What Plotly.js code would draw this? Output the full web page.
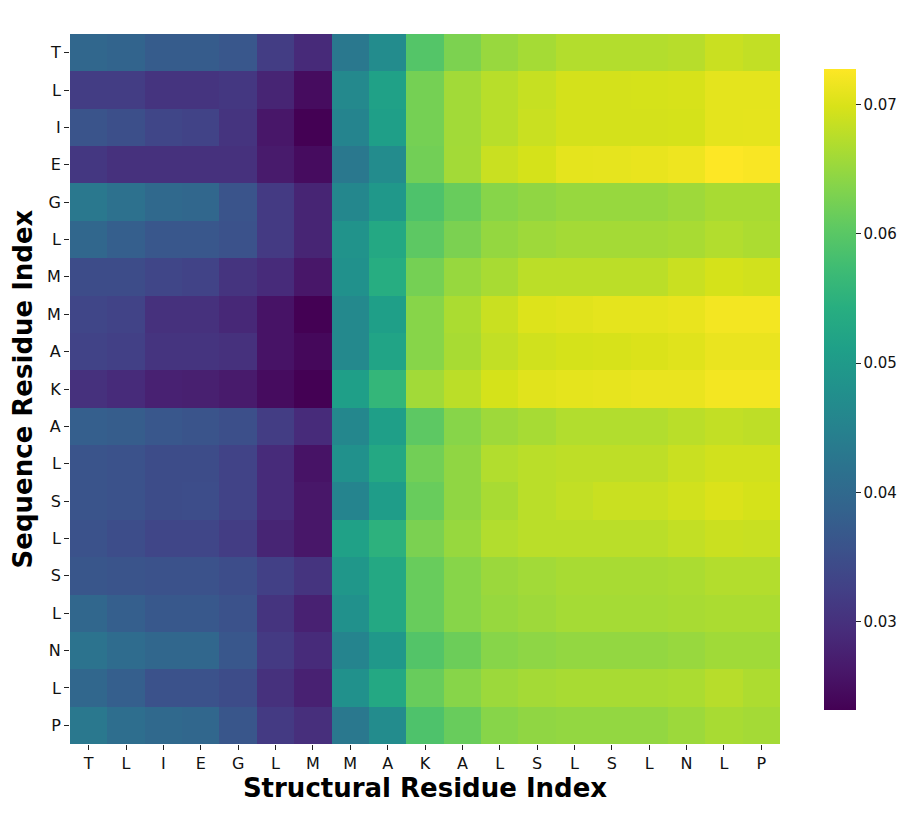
<!DOCTYPE html>
<html>
<head>
<meta charset="utf-8">
<script src="https://cdn.plot.ly/plotly-3.0.1.min.js"></script>
<style>
  body { margin: 0; background: #fff; }
  #chart { width: 914px; height: 816px; }
</style>
</head>
<body>
<div id="chart"></div>
<script>
// residue labels
var structLabels = ['T','L','I','E','G','L','M','M','A','K','A','L','S','L','S','L','N','L','P'];
var seqLabels = ['T','L','I','E','G','L','M','M','A','K','A','L','S','L','S','L','N','L','P'];

// attention values, one row per sequence residue (top to bottom)
var attn = [
  [0.0395,0.0390,0.0375,0.0375,0.0365,0.0320,0.0290,0.0430,0.0470,0.0595,0.0630,0.0652,0.0662,0.0672,0.0672,0.0672,0.0675,0.0688,0.0683],
  [0.0321,0.0320,0.0306,0.0306,0.0310,0.0282,0.0247,0.0465,0.0515,0.0624,0.0659,0.0676,0.0686,0.0696,0.0696,0.0697,0.0698,0.0708,0.0708],
  [0.0361,0.0351,0.0336,0.0331,0.0306,0.0262,0.0232,0.0455,0.0510,0.0624,0.0659,0.0676,0.0688,0.0696,0.0696,0.0696,0.0697,0.0708,0.0709],
  [0.0311,0.0301,0.0300,0.0300,0.0300,0.0267,0.0247,0.0430,0.0470,0.0622,0.0660,0.0688,0.0697,0.0709,0.0710,0.0712,0.0716,0.0728,0.0725],
  [0.0430,0.0416,0.0401,0.0396,0.0361,0.0316,0.0282,0.0460,0.0495,0.0589,0.0614,0.0639,0.0646,0.0651,0.0651,0.0651,0.0656,0.0664,0.0664],
  [0.0396,0.0381,0.0366,0.0366,0.0356,0.0316,0.0282,0.0485,0.0530,0.0604,0.0629,0.0649,0.0656,0.0661,0.0661,0.0661,0.0664,0.0671,0.0667],
  [0.0346,0.0346,0.0336,0.0331,0.0306,0.0292,0.0262,0.0480,0.0540,0.0624,0.0651,0.0664,0.0678,0.0678,0.0678,0.0678,0.0688,0.0697,0.0694],
  [0.0336,0.0331,0.0301,0.0301,0.0287,0.0257,0.0232,0.0465,0.0510,0.0639,0.0666,0.0688,0.0703,0.0706,0.0709,0.0709,0.0712,0.0720,0.0720],
  [0.0331,0.0326,0.0306,0.0306,0.0301,0.0257,0.0242,0.0465,0.0520,0.0639,0.0664,0.0683,0.0693,0.0697,0.0698,0.0701,0.0705,0.0713,0.0713],
  [0.0301,0.0292,0.0277,0.0275,0.0267,0.0247,0.0232,0.0510,0.0560,0.0659,0.0678,0.0697,0.0706,0.0709,0.0711,0.0713,0.0713,0.0720,0.0720],
  [0.0381,0.0376,0.0366,0.0361,0.0351,0.0321,0.0292,0.0460,0.0510,0.0604,0.0639,0.0656,0.0663,0.0671,0.0671,0.0671,0.0677,0.0683,0.0680],
  [0.0361,0.0356,0.0346,0.0346,0.0331,0.0292,0.0257,0.0480,0.0530,0.0622,0.0646,0.0671,0.0677,0.0680,0.0680,0.0680,0.0688,0.0694,0.0694],
  [0.0361,0.0356,0.0346,0.0348,0.0331,0.0292,0.0262,0.0455,0.0505,0.0614,0.0646,0.0664,0.0677,0.0683,0.0688,0.0688,0.0694,0.0701,0.0697],
  [0.0356,0.0348,0.0336,0.0336,0.0321,0.0282,0.0262,0.0515,0.0550,0.0629,0.0651,0.0671,0.0677,0.0677,0.0677,0.0677,0.0683,0.0689,0.0687],
  [0.0363,0.0361,0.0356,0.0356,0.0348,0.0326,0.0306,0.0493,0.0530,0.0614,0.0639,0.0654,0.0659,0.0664,0.0664,0.0664,0.0666,0.0672,0.0672],
  [0.0396,0.0381,0.0368,0.0368,0.0356,0.0306,0.0277,0.0480,0.0530,0.0614,0.0639,0.0651,0.0656,0.0662,0.0662,0.0662,0.0664,0.0666,0.0666],
  [0.0420,0.0406,0.0396,0.0396,0.0366,0.0316,0.0292,0.0455,0.0495,0.0594,0.0617,0.0639,0.0644,0.0648,0.0648,0.0648,0.0652,0.0658,0.0658],
  [0.0396,0.0381,0.0356,0.0356,0.0346,0.0301,0.0277,0.0480,0.0530,0.0614,0.0639,0.0655,0.0661,0.0664,0.0664,0.0664,0.0666,0.0675,0.0668],
  [0.0430,0.0411,0.0401,0.0396,0.0363,0.0316,0.0297,0.0430,0.0470,0.0589,0.0614,0.0639,0.0646,0.0648,0.0648,0.0648,0.0655,0.0664,0.0661]
];

var idx = structLabels.map(function(_, i) { return i; });

var trace = {
  type: 'heatmap',
  z: attn,
  x: idx,
  y: idx,
  colorscale: 'Viridis',
  zmin: 0.0232,
  zmax: 0.0728,
  colorbar: {
    x: 1.062,
    xanchor: 'left',
    xpad: 0,
    y: 0.5,
    yanchor: 'middle',
    ypad: 0,
    len: 0.903,
    thickness: 32,
    outlinewidth: 0,
    ticks: 'outside',
    ticklen: 5,
    tickcolor: '#222',
    tickvals: [0.03, 0.04, 0.05, 0.06, 0.07],
    ticktext: ['0.03', '0.04', '0.05', '0.06', '0.07'],
    tickfont: { family: 'DejaVu Sans', size: 15, color: '#111' }
  },
  hovertemplate: '%{z:.4f}<extra></extra>'
};

var layout = {
  width: 914,
  height: 816,
  margin: { l: 70, r: 134, t: 34, b: 72, autoexpand: false },
  paper_bgcolor: '#fff',
  plot_bgcolor: '#fff',
  font: { family: 'DejaVu Sans', color: '#111' },
  xaxis: {
    tickvals: idx,
    ticktext: structLabels,
    ticks: 'outside',
    ticklen: 5,
    tickcolor: '#222',
    showgrid: false,
    zeroline: false,
    showline: false,
    automargin: false,
    range: [-0.5, 18.5],
    tickfont: { family: 'DejaVu Sans', size: 16, color: '#111' },
    title: { text: '<b>Structural Residue Index</b>', font: { family: 'DejaVu Sans', size: 26, color: '#000' }, standoff: 4 }
  },
  yaxis: {
    tickvals: idx,
    ticktext: seqLabels,
    ticks: 'outside',
    ticklen: 5,
    tickcolor: '#222',
    showgrid: false,
    zeroline: false,
    showline: false,
    automargin: false,
    range: [18.5, -0.5],
    tickfont: { family: 'DejaVu Sans', size: 16, color: '#111' },
    title: { text: '<b>Sequence Residue Index</b>', font: { family: 'DejaVu Sans', size: 26, color: '#000' }, standoff: 6 }
  }
};

Plotly.newPlot('chart', [trace], layout, { displayModeBar: false, staticPlot: true });
</script>
</body>
</html>
